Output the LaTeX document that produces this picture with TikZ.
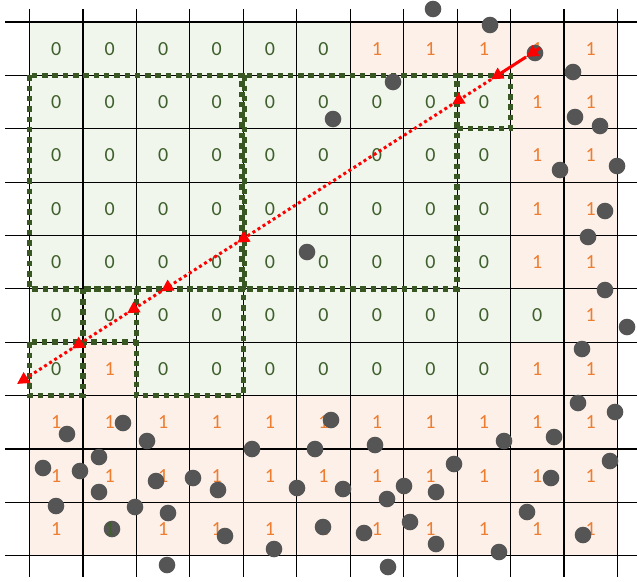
\documentclass[tikz,border=0pt]{standalone}
\usepackage{fontspec}
\setmainfont{Carlito}
\usetikzlibrary{arrows.meta}
\definecolor{zfill}{HTML}{F0F6EC}
\definecolor{ofill}{HTML}{FCF0E8}
\definecolor{ztext}{HTML}{3F5F2D}
\definecolor{otext}{HTML}{ED7D31}
\definecolor{rectc}{HTML}{385723}
\definecolor{dotc}{HTML}{555555}
\definecolor{rayc}{HTML}{FF0000}
\tikzset{
  gridline/.style={black, line width=1.2pt},
  regionbox/.style={draw=rectc, line width=5.5pt, dash pattern=on 5.5pt off 4.8pt},
  celltext/.style={font=\fontsize{20}{24}\selectfont, inner sep=0pt},
  pointdot/.style={dotc},
  raysolid/.style={rayc, line width=3pt, -{Triangle[length=12pt,width=12pt]}},
  raydotted/.style={rayc, line width=3pt, dash pattern=on 3pt off 3pt, -{Triangle[length=12pt,width=12pt]}},
}
\begin{document}
\begin{tikzpicture}[x=1pt,y=-1pt]
\useasboundingbox (0,0) rectangle (637,581);
% cells
\begin{scope}[shift={(29.5,22)},x=53.45pt,y=-53.37pt]
\foreach \r/\vals in {
  0/{0,0,0,0,0,0,1,1,1,1,1},
  1/{0,0,0,0,0,0,0,0,0,1,1},
  2/{0,0,0,0,0,0,0,0,0,1,1},
  3/{0,0,0,0,0,0,0,0,0,1,1},
  4/{0,0,0,0,0,0,0,0,0,1,1},
  5/{0,0,0,0,0,0,0,0,0,0,1},
  6/{0,1,0,0,0,0,0,0,0,1,1},
  7/{1,1,1,1,1,1,1,1,1,1,1},
  8/{1,1,1,1,1,1,1,1,1,1,1},
  9/{1,2,1,1,1,1,1,1,1,1,1}}{
  \foreach \v [count=\c from 0] in \vals {
    \ifnum\v=0 \def\fc{zfill}\else\def\fc{ofill}\fi
    \fill[\fc] (\c,\r) rectangle ++(1,1);
  }
}
\end{scope}
% grid lines
\foreach \j in {0,...,10} \draw[gridline] (5,{22+53.37*\j}) -- (637,{22+53.37*\j});
\foreach \i in {0,...,11} \draw[gridline] ({29.5+53.45*\i},9) -- ({29.5+53.45*\i},577);
% texts and box corners
\begin{scope}[shift={(29.5,22)},x=53.45pt,y=-53.37pt]
\foreach \r/\vals in {
  0/{0,0,0,0,0,0,1,1,1,1,1},
  1/{0,0,0,0,0,0,0,0,0,1,1},
  2/{0,0,0,0,0,0,0,0,0,1,1},
  3/{0,0,0,0,0,0,0,0,0,1,1},
  4/{0,0,0,0,0,0,0,0,0,1,1},
  5/{0,0,0,0,0,0,0,0,0,0,1},
  6/{0,1,0,0,0,0,0,0,0,1,1},
  7/{1,1,1,1,1,1,1,1,1,1,1},
  8/{1,1,1,1,1,1,1,1,1,1,1},
  9/{1,2,1,1,1,1,1,1,1,1,1}}{
  \foreach \v [count=\c from 0] in \vals {
    \ifnum\v=0 \node[celltext, text=ztext] (c-\r-\c) at (\c+0.5,\r+0.5) {0};\fi
    \ifnum\v=1 \node[celltext, text=otext] (c-\r-\c) at (\c+0.5,\r+0.5) {1};\fi
  }
}
\coordinate (a1) at (0,1);    \coordinate (b1) at (3.98,5);
\coordinate (a2) at (4.02,1); \coordinate (b2) at (8,5);
\coordinate (a3) at (8,1);    \coordinate (b3) at (9,2);
\coordinate (a4) at (0,6);    \coordinate (b4) at (1,7);
\coordinate (a5) at (1,5);    \coordinate (b5) at (2,6);
\coordinate (a6) at (2,5);    \coordinate (b6) at (4,7);
\end{scope}
% region boxes
\foreach \k in {1,2,4,5,6} \draw[regionbox] (a\k) rectangle (b\k);
\draw[regionbox] (a3) -- (a3 -| b3) -- (b3) -- (b3 -| a3);
% points
\foreach \px/\py in {433/9,490/25,535/53,573/72,393/82,333/119,575/117,600/126,560/170,617/166,605/211,588/237,307/252,605/290,627/327,582/349,
  123/423,67/434,147/441,43/468,80/471,99/457,99/492,156/481,193/478,56/506,135/507,168/513,112/529,167/565,
  331/420,252/449,315/449,375/445,218/490,297/488,343/489,387/499,404/486,410/522,225/536,274/549,323/527,364/533,388/567,
  578/403,615/412,504/441,554/437,454/464,610/461,436/492,551/478,527/512,436/544,499/552,583/535}
  \fill[pointdot] (\px,\py) circle[radius=8.3];
% special cell text on top
\begin{scope}[shift={(29.5,22)},x=53.45pt,y=-53.37pt]
\node[celltext, text=ztext] (c-9-1) at (1.5,9.5) {1};
\end{scope}
% ray
\coordinate (p0) at (540,48);
\coordinate (p1) at (526,57);
\coordinate (p2) at (491,79.5);
\coordinate (p3) at (452,104.5);
\coordinate (p4) at (237,242.7);
\coordinate (p5) at (161,291.5);
\coordinate (p6) at (127,313.3);
\coordinate (p7) at (72,348.6);
\coordinate (p8) at (17,384);
\draw[raysolid] (p0) -- (p1);
\draw[raysolid] (p1) -- (p2);
\draw[raydotted] (p2) -- (p3);
\draw[raydotted] (p3) -- (p4);
\draw[raydotted] (p4) -- (p5);
\draw[raydotted] (p5) -- (p6);
\draw[raydotted] (p6) -- (p7);
\draw[raydotted] (p7) -- (p8);
\end{tikzpicture}
\end{document}
